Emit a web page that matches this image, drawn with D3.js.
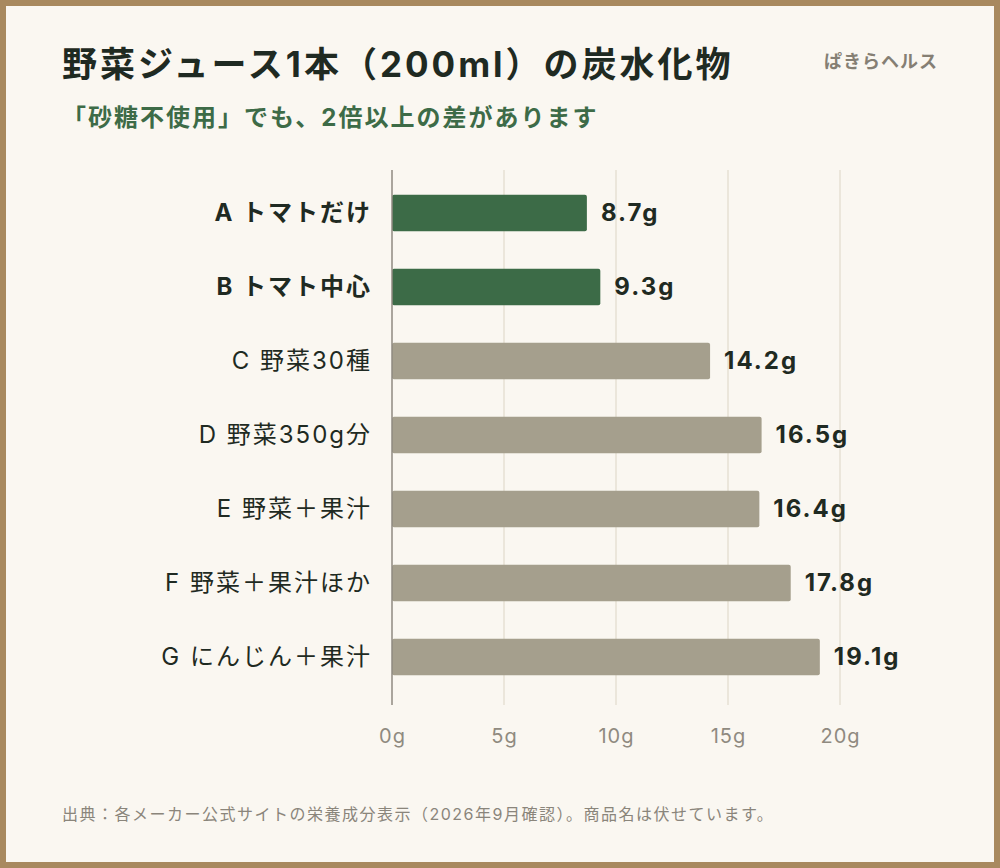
<!DOCTYPE html><html><head><meta charset="utf-8"><script src="https://cdn.jsdelivr.net/npm/d3@7"></script>
<style>body{margin:0;background:#fff}</style></head><body><svg id="c" width="1000" height="868"></svg>
<script>
const categories=["A トマトだけ","B トマト中心","C 野菜30種","D 野菜350g分","E 野菜＋果汁","F 野菜＋果汁ほか","G にんじん＋果汁"];
const values=[8.7,9.3,14.2,16.5,16.4,17.8,19.1];
const highlight=[true,true,false,false,false,false,false];
const ticks=[0,5,10,15,20];
const F="Inter,'Noto Sans CJK JP','Noto Sans',sans-serif";
const svg=d3.select("#c");
svg.append("rect").attr("x",3).attr("y",3).attr("width",994).attr("height",862).attr("fill","#faf7f1").attr("stroke","#a8895f").attr("stroke-width",6);
svg.append("text").attr("x",62).attr("y",77).attr("font-family",F).attr("font-weight",700).attr("font-size",35).attr("letter-spacing",3).attr("fill","#1f2a22").text("野菜ジュース1本（200ml）の炭水化物");
svg.append("text").attr("x",62).attr("y",126).attr("font-family",F).attr("font-weight",700).attr("font-size",24).attr("letter-spacing",2).attr("fill","#3d6b47").text("「砂糖不使用」でも、2倍以上の差があります");
svg.append("text").attr("x",938).attr("y",68).attr("text-anchor","end").attr("font-family",F).attr("font-weight",700).attr("font-size",18).attr("letter-spacing",1).attr("fill","#857f74").text("ぱきらヘルス");
const x=d3.scaleLinear().domain([0,20]).range([392,840]);
const y=d3.scaleBand().domain(categories).range([176,694]).paddingInner(0.51).paddingOuter(0.255);
const g=svg.append("g");
g.selectAll(".grid").data(ticks.slice(1)).join("line").attr("x1",d=>x(d)).attr("x2",d=>x(d)).attr("y1",170).attr("y2",705).attr("stroke","#ebe6db").attr("stroke-width",2);
g.selectAll(".bar").data(values).join("rect").attr("x",x(0)).attr("y",(d,i)=>y(categories[i])).attr("width",d=>x(d)-x(0)).attr("height",y.bandwidth()).attr("rx",2).attr("fill",(d,i)=>highlight[i]?"#3c6b47":"#a59f8d");
g.selectAll(".val").data(values).join("text").attr("x",d=>x(d)+14).attr("y",(d,i)=>y(categories[i])+y.bandwidth()/2).attr("dy","0.35em").attr("font-family",F).attr("font-weight",700).attr("font-size",24).attr("letter-spacing",2).attr("fill","#1f2a22").text(d=>d.toFixed(1)+"g");
g.selectAll(".cat").data(categories).join("text").attr("x",372).attr("y",d=>y(d)+y.bandwidth()/2).attr("dy","0.35em").attr("text-anchor","end").attr("font-family",F).attr("font-weight",(d,i)=>highlight[i]?700:400).attr("font-size",24).attr("letter-spacing",2).attr("fill","#1f2a22").text(d=>d);
g.append("line").attr("x1",392).attr("x2",392).attr("y1",170).attr("y2",705).attr("stroke","#8f8a80").attr("stroke-width",1.5);
const ax=svg.append("g").attr("transform","translate(0,705)").call(d3.axisBottom(x).tickValues(ticks).tickFormat(d=>d+"g").tickSize(0).tickPadding(24));
ax.select(".domain").remove();
ax.selectAll("text").attr("font-family",F).attr("font-size",20).attr("letter-spacing",1).attr("fill","#8f8a80");
svg.append("text").attr("x",62).attr("y",820).attr("font-family",F).attr("font-size",16).attr("letter-spacing",1.5).attr("fill","#8a857b").text("出典：各メーカー公式サイトの栄養成分表示（2026年9月確認）。商品名は伏せています。");
</script></body></html>
